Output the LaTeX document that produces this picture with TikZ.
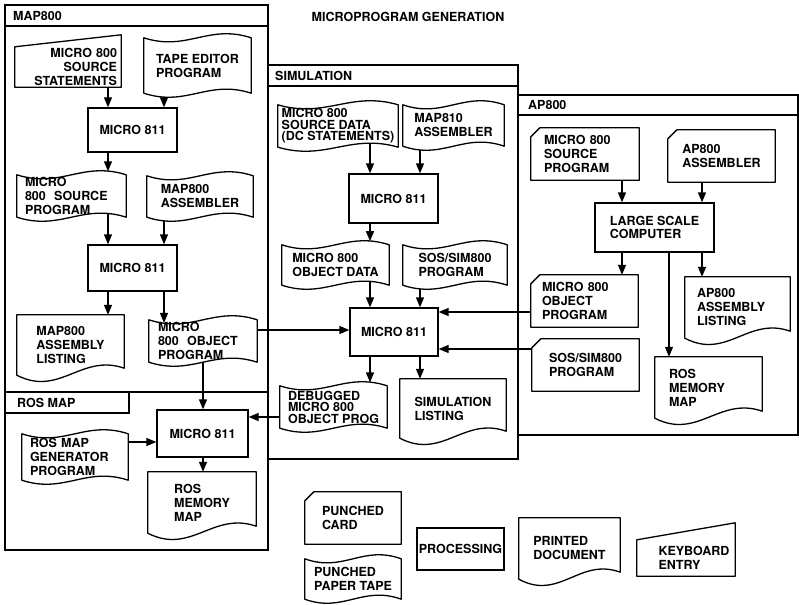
\documentclass[tikz,border=0pt]{standalone}
\usepackage{fontspec}
\setmainfont{TeX Gyre Heros}
\usetikzlibrary{arrows.meta,calc}
\pgfdeclarelayer{bg}
\pgfdeclarelayer{mid}
\pgfsetlayers{bg,mid,main}
\tikzset{
  lbl/.style={font=\fontsize{12.5}{14}\selectfont\bfseries, inner sep=0pt},
  tight/.style={font=\fontsize{12.5}{11.5}\selectfont\bfseries},
  sz/.style 2 args={minimum width=#1pt, minimum height=#2pt},
  proc/.style={lbl, draw, fill=white, line width=1.3pt},
  shp/.style={draw, fill=white, line width=1.3pt, line join=round},
  frm/.style={draw, line width=2pt},
  arr/.style={line width=1.3pt, -{Triangle[length=10pt,width=8pt]}}
}
\newcommand\tapeshape[1]{\draw[shp] (#1.north west)
  .. controls ($(#1.north west)!0.4!(#1.north east)+(0pt,-14pt)$) and ($(#1.north west)!0.6!(#1.north east)+(0pt,14pt)$) .. (#1.north east)
  -- (#1.south east)
  .. controls ($(#1.south west)!0.6!(#1.south east)+(0pt,14pt)$) and ($(#1.south west)!0.4!(#1.south east)+(0pt,-14pt)$) .. (#1.south west) -- cycle;}
\newcommand\docshape[1]{\draw[shp] (#1.south west) -- (#1.north west) -- (#1.north east) -- ([yshift=7pt]#1.south east)
  .. controls ($(#1.south west)!0.6!(#1.south east)+(0pt,22pt)$) and ($(#1.south west)!0.4!(#1.south east)+(0pt,-22pt)$) .. (#1.south west) -- cycle;}
\newcommand\cardshape[1]{\draw[shp] (#1.south west) -- ([yshift=-9pt]#1.north west) -- ([xshift=9pt]#1.north west) -- (#1.north east) -- (#1.south east) -- cycle;}
\newcommand\kbdshape[2]{\draw[shp] (#1.south west) -- (#1.north west) -- ([yshift=#2]#1.north east) -- (#1.south east) -- cycle;}
\begin{document}
\begin{tikzpicture}[x=1pt,y=-1pt]
\useasboundingbox (0,0) rectangle (799,604);

% title and frame labels
\node[lbl] (title) at (408,17) {MICROPROGRAM GENERATION};
\node[lbl, anchor=west] (hmap) at (13,16) {MAP800};
\node[lbl, anchor=west] (hros) at (17,403) {ROS MAP};
\node[lbl, anchor=west] (hsim) at (275,76) {SIMULATION};
\node[lbl, anchor=west] (hap) at (528,105) {AP800};

% MAP800
\node[lbl, sz={106}{40}, text width=98pt, align=right] (k1) at (68,67) {MICRO 800\\SOURCE\\STATEMENTS};
\node[lbl, sz={107}{55}, align=left] (t1) at (197.5,65.5) {TAPE EDITOR\\PROGRAM};
\node[proc, sz={89}{44}] (b1) at (132.5,130) {MICRO 811};
\node[lbl, sz={109}{42}, text width=93pt, align=left] (t2) at (71.5,196) {MICRO\\800\ \ SOURCE\\PROGRAM};
\node[lbl, sz={106}{41}, align=left] (t3) at (200,196.5) {MAP800\\ASSEMBLER};
\node[proc, sz={89}{46}] (b2) at (132.5,268) {MICRO 811};
\node[lbl, sz={107}{60}, align=left] (d1) at (70.5,345) {MAP800\\ASSEMBLY\\LISTING};
\node[lbl, sz={108}{42}, text width=90pt, align=left] (t4) at (203,341) {MICRO\\800\ \ OBJECT\\PROGRAM};

% ROS MAP
\node[lbl, sz={106}{46}, text width=90pt, align=left] (t5) at (75,457) {ROS MAP\\GENERATOR\\PROGRAM};
\node[proc, sz={91}{47}] (b3) at (202.5,433.5) {MICRO 811};
\node[lbl, sz={108}{61}, align=left] (d2) at (202,502.5) {ROS\\MEMORY\\MAP};

% SIMULATION
\node[lbl, tight, sz={120}{42}, align=left] (t6) at (338,126) {MICRO 800\\SOURCE DATA\\(DC STATEMENTS)};
\node[lbl, sz={101}{41}, align=left] (t7) at (453.5,125.5) {MAP810\\ASSEMBLER};
\node[proc, sz={89}{49}] (b4) at (393.5,198.5) {MICRO 811};
\node[lbl, sz={107}{40}, align=left] (t8) at (335.5,265) {MICRO 800\\OBJECT DATA};
\node[lbl, sz={104}{40}, align=left] (t9) at (455,265) {SOS/SIM800\\PROGRAM};
\node[proc, sz={88}{48}] (b5) at (394,332) {MICRO 811};
\node[lbl, tight, sz={107}{42}, align=left] (t10) at (333.5,407) {DEBUGGED\\MICRO 800\\OBJECT PROG};
\node[lbl, sz={106}{59}, align=left] (d3) at (453,408.5) {SIMULATION\\LISTING};

% AP800
\node[lbl, sz={108}{52}, text width=82pt, align=left] (c1) at (585,154) {MICRO 800\\SOURCE\\PROGRAM};
\node[lbl, sz={107}{52}, align=left] (c2) at (721.5,156) {AP800\\ASSEMBLER};
\node[proc, sz={119}{49}, align=left, font=\fontsize{12.5}{12.5}\selectfont\bfseries] (b6) at (654.5,227.5) {LARGE SCALE\\COMPUTER};
\node[lbl, sz={107}{52}, text width=85pt, align=left] (c3) at (584.5,301) {MICRO 800\\OBJECT\\PROGRAM};
\node[lbl, sz={107}{52}, align=left] (c4) at (585.5,365) {SOS/SIM800\\PROGRAM};
\node[lbl, sz={105}{61}, text width=81pt, align=left] (d4) at (737.5,307.5) {AP800\\ASSEMBLY\\LISTING};
\node[lbl, sz={107}{61}, text width=79pt, align=left] (d5) at (708.5,387.5) {ROS\\MEMORY\\MAP};

% legend
\node[lbl, sz={96}{52}, align=left] (lc) at (353,518) {PUNCHED\\CARD};
\node[lbl, sz={96}{40}, align=left] (lt) at (353,579) {PUNCHED\\PAPER TAPE};
\node[proc, sz={87}{42}] (lp) at (460.5,549) {PROCESSING};
\node[lbl, sz={101}{61}, align=left] (ld) at (569.5,548.5) {PRINTED\\DOCUMENT};
\node[lbl, sz={98}{36}, align=left] (lk) at (686,558) {\hspace*{16pt}KEYBOARD\\\hspace*{16pt}ENTRY};

\begin{pgfonlayer}{mid}
  \kbdshape{k1}{12pt}
  \tapeshape{t1}\tapeshape{t2}\tapeshape{t3}\tapeshape{t4}\tapeshape{t5}
  \tapeshape{t6}\tapeshape{t7}\tapeshape{t8}\tapeshape{t9}\tapeshape{t10}
  \docshape{d1}\docshape{d2}\docshape{d3}\docshape{d4}\docshape{d5}
  \cardshape{c1}\cardshape{c2}\cardshape{c3}\cardshape{c4}
  \cardshape{lc}\tapeshape{lt}\docshape{ld}\kbdshape{lk}{17pt}
\end{pgfonlayer}

\begin{pgfonlayer}{bg}
  % frames
  \draw[frm] (5,5) rectangle (268,392);
  \draw[frm] (5,26) -- (268,26);
  \draw[frm] (5,392) rectangle (268,550);
  \draw[frm] (5,413) -| (129,392);
  \draw[frm] (268,65) rectangle (518,459);
  \draw[frm] (268,86) -- (518,86);
  \draw[frm] (518,95) rectangle (798,435);
  \draw[frm] (518,115) -- (798,115);

  % MAP800 connectors
  \draw[arr] (108,0 |- k1.south) -- (108,0 |- b1.north);
  \draw[arr] ($(t1.south -| 164,0)+(0,3.8)$) -- (164,0 |- b1.north);
  \draw[arr] (108,0 |- b1.south) -- ($(108,0 |- t2.north)+(0,-3.5)$);
  \draw[arr] ($(t2.south -| 108,0)+(0,-3.5)$) -- (108,0 |- b2.north);
  \draw[arr] ($(t3.south -| 164,0)+(0,3.4)$) -- (164,0 |- b2.north);
  \draw[arr] (108,0 |- b2.south) -- (108,0 |- d1.north);
  \draw[arr] (164,0 |- b2.south) -- ($(164,0 |- t4.north)+(0,3.1)$);
  \draw[arr] (t4.east |- 0,330) -- (b5.west |- 0,330);
  \draw[arr] (203,0 |- t4.south) -- (203,0 |- b3.north);
  % ROS MAP connectors
  \draw[arr] (t5.east |- 0,442) -- (b3.west |- 0,442);
  \draw[arr] (203,0 |- b3.south) -- (203,0 |- d2.north);
  \draw[arr] (t10.west |- 0,417) -- (b3.east |- 0,417);
  % SIMULATION connectors
  \draw[arr] ($(t6.south -| 370,0)+(0,-4)$) -- (370,0 |- b4.north);
  \draw[arr] ($(t7.south -| 420,0)+(0,3.5)$) -- (420,0 |- b4.north);
  \draw[arr] (370,0 |- b4.south) -- ($(370,0 |- t8.north)+(0,-3.6)$);
  \draw[arr] ($(t8.south -| 370,0)+(0,-3.6)$) -- (370,0 |- b5.north);
  \draw[arr] ($(t9.south -| 420,0)+(0,3.4)$) -- (420,0 |- b5.north);
  \draw[arr] (c3.west |- 0,312) -- (b5.east |- 0,312);
  \draw[arr] (c4.west |- 0,349) -- (b5.east |- 0,349);
  \draw[arr] (370,0 |- b5.south) -- ($(370,0 |- t10.north)+(0,-3.4)$);
  \draw[arr] (420,0 |- b5.south) -- (420,0 |- d3.north);
  % AP800 connectors
  \draw[arr] (622,0 |- c1.south) -- (622,0 |- b6.north);
  \draw[arr] (702,0 |- c2.south) -- (702,0 |- b6.north);
  \draw[arr] (622,0 |- b6.south) -- (622,0 |- c3.north);
  \draw[arr] (702,0 |- b6.south) -- (702,0 |- d4.north);
  \draw[arr] (669,0 |- b6.south) -- (669,0 |- d5.north);
\end{pgfonlayer}
\end{tikzpicture}
\end{document}
